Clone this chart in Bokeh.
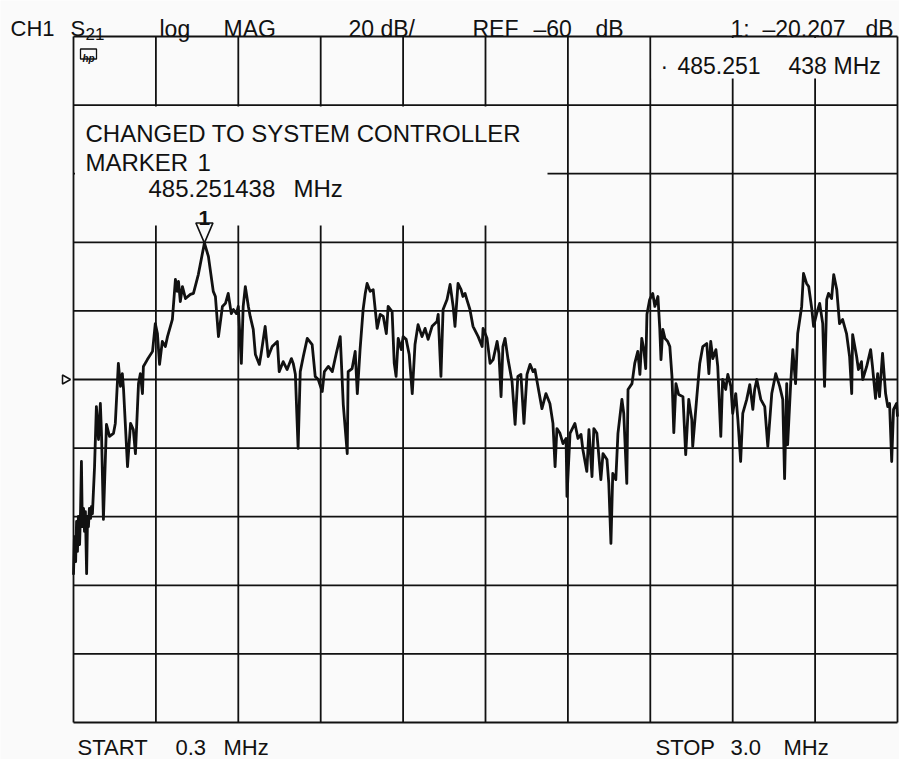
from bokeh.plotting import figure
from bokeh.models import Range1d, Label
from bokeh.embed import file_html
from bokeh.resources import INLINE

# ---------------- data ----------------
start_mhz = 0.3
stop_mhz = 3.0
ref_db = -60.0
db_per_div = 20.0
n_div = 10
marker_mhz = 0.729
marker_db = -20.207

freq_mhz = [
    0.300, 0.303, 0.307, 0.310, 0.313, 0.316, 0.320, 0.323, 0.326, 0.329,
    0.333, 0.336, 0.339, 0.343, 0.346, 0.349, 0.352, 0.356, 0.359, 0.362,
    0.369, 0.375, 0.382, 0.388, 0.392, 0.398, 0.408, 0.418, 0.431, 0.437,
    0.447, 0.454, 0.460, 0.464, 0.477, 0.487, 0.496, 0.503, 0.513, 0.519,
    0.526, 0.529, 0.542, 0.559, 0.568, 0.575, 0.582, 0.591, 0.601, 0.608,
    0.624, 0.634, 0.640, 0.644, 0.650, 0.657, 0.667, 0.683, 0.693, 0.709,
    0.729, 0.742, 0.758, 0.765, 0.775, 0.788, 0.798, 0.807, 0.817, 0.824,
    0.834, 0.840, 0.850, 0.856, 0.863, 0.873, 0.879, 0.889, 0.896, 0.909,
    0.915, 0.928, 0.938, 0.951, 0.968, 0.974, 0.987, 1.000, 1.014, 1.020,
    1.027, 1.036, 1.043, 1.053, 1.066, 1.082, 1.092, 1.102, 1.115, 1.122,
    1.135, 1.148, 1.161, 1.174, 1.184, 1.197, 1.200, 1.213, 1.223, 1.230,
    1.239, 1.249, 1.256, 1.262, 1.272, 1.282, 1.295, 1.305, 1.315, 1.325,
    1.331, 1.344, 1.351, 1.357, 1.364, 1.374, 1.380, 1.390, 1.400, 1.410,
    1.419, 1.429, 1.442, 1.452, 1.462, 1.475, 1.491, 1.495, 1.504, 1.511,
    1.524, 1.534, 1.544, 1.550, 1.560, 1.570, 1.576, 1.583, 1.589, 1.599,
    1.609, 1.626, 1.639, 1.642, 1.655, 1.665, 1.675, 1.688, 1.694, 1.701,
    1.707, 1.714, 1.724, 1.737, 1.747, 1.756, 1.766, 1.776, 1.786, 1.796,
    1.806, 1.812, 1.819, 1.835, 1.848, 1.861, 1.871, 1.878, 1.884, 1.894,
    1.904, 1.914, 1.917, 1.927, 1.943, 1.953, 1.963, 1.969, 1.982, 1.989,
    1.999, 2.005, 2.015, 2.028, 2.035, 2.048, 2.054, 2.061, 2.067, 2.077,
    2.084, 2.097, 2.103, 2.113, 2.117, 2.130, 2.139, 2.149, 2.156, 2.162,
    2.169, 2.175, 2.179, 2.188, 2.198, 2.205, 2.215, 2.221, 2.225, 2.231,
    2.238, 2.247, 2.254, 2.261, 2.267, 2.274, 2.283, 2.297, 2.306, 2.316,
    2.326, 2.329, 2.342, 2.352, 2.362, 2.375, 2.382, 2.388, 2.395, 2.405,
    2.411, 2.421, 2.427, 2.437, 2.444, 2.454, 2.460, 2.470, 2.477, 2.486,
    2.493, 2.506, 2.516, 2.526, 2.532, 2.539, 2.552, 2.565, 2.575, 2.588,
    2.601, 2.614, 2.624, 2.630, 2.637, 2.640, 2.650, 2.657, 2.666, 2.673,
    2.686, 2.692, 2.702, 2.709, 2.719, 2.725, 2.735, 2.745, 2.755, 2.761,
    2.768, 2.774, 2.784, 2.791, 2.801, 2.810, 2.820, 2.833, 2.843, 2.850,
    2.853, 2.866, 2.872, 2.882, 2.886, 2.899, 2.912, 2.918, 2.928, 2.935,
    2.941, 2.951, 2.961, 2.968, 2.974, 2.981, 2.987, 2.997, 3.000,
]

s21_db = [
    -116.9, -105.8, -113.1, -101.4, -110.1, -99.9, -108.1, -98.5, -83.9, -102.9,
    -97.6, -104.3, -98.5, -116.6, -99.9, -102.9, -97.6, -100.5, -97.0, -99.1,
    -85.4, -67.9, -77.5, -67.0, -76.6, -100.8, -73.1, -76.6, -75.7, -72.8,
    -55.3, -62.0, -58.3, -62.9, -85.4, -72.8, -74.6, -81.6, -61.2, -58.3,
    -64.1, -56.2, -54.2, -51.8, -43.7, -46.6, -55.6, -48.9, -50.4, -47.5,
    -42.5, -30.8, -34.3, -31.4, -37.3, -32.9, -36.4, -35.2, -34.9, -29.4,
    -20.2, -24.1, -34.3, -35.8, -47.5, -38.7, -37.8, -34.9, -40.8, -39.6,
    -40.8, -38.7, -55.3, -38.7, -32.9, -38.7, -41.6, -45.4, -52.7, -55.6,
    -52.4, -44.5, -53.3, -50.4, -48.9, -57.7, -54.8, -57.1, -53.9, -55.3,
    -58.5, -80.1, -57.7, -53.3, -48.0, -49.8, -59.1, -60.0, -63.5, -57.7,
    -56.2, -57.7, -52.4, -47.5, -67.3, -81.6, -57.7, -56.8, -51.8, -64.1,
    -51.3, -39.6, -34.9, -32.0, -34.3, -33.8, -45.1, -41.0, -41.6, -46.6,
    -38.7, -40.2, -55.3, -59.1, -48.0, -51.3, -47.5, -48.3, -52.7, -64.1,
    -49.8, -44.0, -47.5, -45.1, -48.3, -44.5, -43.1, -41.0, -59.1, -39.6,
    -36.7, -32.3, -38.7, -44.5, -32.0, -33.8, -35.8, -34.9, -36.7, -39.6,
    -44.5, -47.5, -50.4, -45.1, -48.0, -55.3, -54.2, -48.9, -52.4, -65.0,
    -50.4, -48.0, -54.2, -60.6, -73.1, -59.1, -58.5, -72.8, -58.5, -55.6,
    -57.7, -57.1, -60.6, -68.5, -64.1, -67.0, -72.8, -85.4, -74.3, -75.7,
    -78.7, -77.2, -94.1, -75.7, -72.8, -77.2, -76.0, -80.4, -86.8, -74.6,
    -88.3, -74.3, -75.7, -89.2, -81.6, -83.3, -90.3, -107.8, -87.4, -89.2,
    -75.7, -65.8, -69.9, -90.3, -62.9, -61.2, -55.3, -51.8, -58.5, -48.0,
    -51.3, -56.8, -41.0, -36.7, -34.9, -38.7, -35.8, -45.1, -54.2, -45.4,
    -48.0, -48.9, -50.4, -59.1, -75.5, -61.2, -64.4, -65.0, -81.9, -65.8,
    -71.7, -79.5, -65.5, -55.3, -50.4, -49.5, -58.3, -48.9, -53.9, -51.3,
    -56.2, -76.6, -60.0, -62.9, -58.5, -62.0, -69.9, -64.1, -71.7, -83.9,
    -69.9, -65.8, -61.5, -68.7, -62.9, -60.0, -65.8, -67.9, -79.5, -64.1,
    -58.3, -62.0, -65.8, -88.9, -61.2, -79.0, -61.2, -51.3, -61.2, -46.6,
    -38.7, -29.1, -32.0, -32.9, -39.3, -44.5, -40.8, -37.8, -43.7, -62.0,
    -36.7, -34.9, -36.4, -29.4, -33.8, -43.7, -42.5, -46.6, -53.3, -64.1,
    -46.9, -53.3, -57.1, -54.8, -60.0, -56.2, -51.3, -56.2, -65.5, -58.3,
    -65.0, -52.4, -64.1, -67.9, -67.0, -83.9, -68.7, -67.0, -70.8,
]

# ---------------- layout ----------------
INK = "#111111"
BG = "#fafafa"
FONT = "Liberation Sans"

W, H = 899, 759
GX0, GX1 = 73, 897      # graticule left/right in canvas px
GY0, GY1 = 36, 722      # graticule top/bottom in canvas px

top_db = ref_db + db_per_div * n_div / 2
bot_db = ref_db - db_per_div * n_div / 2
x_ticks = [start_mhz + i * (stop_mhz - start_mhz) / n_div for i in range(n_div + 1)]
y_ticks = [bot_db + i * db_per_div for i in range(n_div + 1)]

mhz_per_px = (stop_mhz - start_mhz) / (GX1 - GX0)
db_per_px = (top_db - bot_db) / (GY1 - GY0)

p = figure(width=W, height=H, output_backend="svg", toolbar_location=None,
           x_range=Range1d(start_mhz - GX0 * mhz_per_px, stop_mhz + (W - GX1) * mhz_per_px),
           y_range=Range1d(bot_db - (H - GY1) * db_per_px, top_db + GY0 * db_per_px),
           x_axis_location=None, y_axis_location=None, min_border=0, title=None)
p.xgrid.visible = False
p.ygrid.visible = False
p.outline_line_color = None
p.background_fill_color = BG
p.border_fill_color = BG


def fx(px):
    # horizontal canvas position -> MHz
    return start_mhz + (px - GX0) * mhz_per_px


def fy(py):
    # vertical canvas position -> dB
    return top_db - (py - GY0) * db_per_px


# graticule
p.segment(x0=x_ticks, y0=[bot_db] * len(x_ticks), x1=x_ticks, y1=[top_db] * len(x_ticks),
          line_color=INK, line_width=1.8)
p.segment(x0=[start_mhz] * len(y_ticks), y0=y_ticks, x1=[stop_mhz] * len(y_ticks), y1=y_ticks,
          line_color=INK, line_width=1.8)

# annotation boxes that hide parts of the graticule
p.quad(left=[start_mhz + 1.5 * mhz_per_px], right=[fx(547)],
       bottom=[fy(225)], top=[top_db - db_per_div - 1.5 * db_per_px],
       fill_color=BG, line_color=None)
p.quad(left=[x_ticks[7] + 1.5 * mhz_per_px], right=[stop_mhz - 1.5 * mhz_per_px],
       bottom=[fy(78)], top=[top_db - 1.5 * db_per_px],
       fill_color=BG, line_color=None)

# trace
p.line(freq_mhz, s21_db, line_color=INK, line_width=2.8, line_join="round")

# marker triangle
p.patch(x=[marker_mhz, marker_mhz - 8.5 * mhz_per_px, marker_mhz + 8.5 * mhz_per_px],
        y=[marker_db, marker_db + 20 * db_per_px, marker_db + 20 * db_per_px],
        fill_color=None, line_color=INK, line_width=1.7)

# reference position triangle
p.patch(x=[fx(62), fx(62), fx(70)],
        y=[ref_db + 4.5 * db_per_px, ref_db - 4.5 * db_per_px, ref_db],
        fill_color=BG, line_color=INK, line_width=1.5)

# hp logo
p.rect(x=[fx(88)], y=[fy(53.5)], width=16 * mhz_per_px, height=10 * db_per_px,
       fill_color=None, line_color=INK, line_width=1.3)


def lab(text, px, py, size="23px", align="left", style="normal"):
    p.add_layout(Label(x=fx(px), y=fy(py), text=text, text_font=FONT,
                       text_font_size=size, text_align=align,
                       text_baseline="alphabetic", text_color=INK,
                       text_font_style=style))


lab("hp", 88, 57.5, size="10px", align="center", style="bold italic")

# header
lab("CH1", 10, 28, size="22px")
lab("S", 70, 28, size="22px")
lab("21", 85, 33, size="17px")
lab("log", 159, 28)
lab("MAG", 223, 28)
lab("20 dB/", 348, 28)
lab("REF", 472, 28)
lab("\u201360", 533, 28)
lab("dB", 595, 28)
lab("1:", 730, 28)
lab("\u201320.207", 762, 28)
lab("dB", 865, 28)

# marker readout box
lab("\u00b7", 660, 65)
lab("485.251", 677, 65)
lab("438", 788, 65)
lab("MHz", 833, 65)

# message box
lab("CHANGED TO SYSTEM CONTROLLER", 85, 133, size="24px")
lab("MARKER", 85, 162, size="24px")
lab("1", 197, 162, size="24px")
lab("485.251438", 148, 188, size="24px")
lab("MHz", 293, 188, size="24px")
p.add_layout(Label(x=marker_mhz, y=marker_db + 25 * db_per_px, text="1", text_font=FONT,
                   text_font_size="21px", text_align="center", text_baseline="alphabetic",
                   text_color=INK, text_font_style="bold"))

# footer
lab("START", 77, 747, size="22px")
lab("0.3", 175, 747, size="22px")
lab("MHz", 223, 747, size="22px")
lab("STOP", 655, 747, size="22px")
lab("3.0", 730, 747, size="22px")
lab("MHz", 783, 747, size="22px")

open("out.html", "w").write(file_html(p, INLINE))
